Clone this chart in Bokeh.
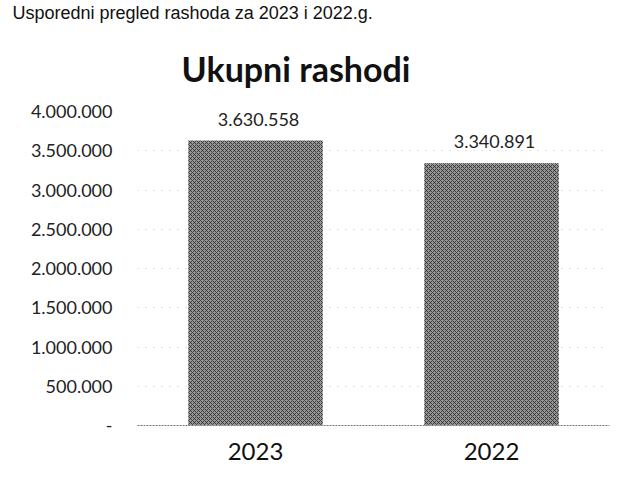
from bokeh.plotting import figure
from bokeh.models import FactorRange, Range1d, FixedTicker, Title, ColumnDataSource, LabelSet
from bokeh.core.properties import value
from bokeh.embed import file_html
from bokeh.resources import INLINE

header = "Usporedni pregled rashoda za 2023 i 2022.g."
chart_title = "Ukupni rashodi"
years = ["2023", "2022"]
values = [3630558, 3340891]
value_labels = ["3.630.558", "3.340.891"]
tick_values = [0, 500000, 1000000, 1500000, 2000000, 2500000, 3000000, 3500000, 4000000]
tick_labels = ["-", "500.000", "1.000.000", "1.500.000", "2.000.000",
               "2.500.000", "3.000.000", "3.500.000", "4.000.000"]

p = figure(width=617, height=466, output_backend="svg", toolbar_location=None,
           title=None,
           x_range=FactorRange(*years), y_range=Range1d(0, 4000000),
           min_border_left=137, min_border_right=8, min_border_bottom=41,
           min_border_top=111)

p.add_layout(Title(text=chart_title, text_font="Lato", text_font_style="bold",
                   text_font_size="34px", text_color="#111111", align="left",
                   offset=44, standoff=46), "above")
p.add_layout(Title(text=header, text_font="Liberation Sans", text_font_size="18px",
                   text_font_style="normal", text_color="#111111", align="left",
                   offset=-125, standoff=0), "above")

src = ColumnDataSource(dict(x=years, top=values, lab=value_labels))
p.vbar(x="x", top="top", width=0.57, source=src, fill_color="#969696",
       line_color=None, hatch_pattern="x", hatch_color="#262626",
       hatch_scale=4, hatch_weight=1, hatch_alpha=0.8)

p.add_layout(LabelSet(x="x", y="top", text="lab", source=src, text_align="center",
                      text_baseline="alphabetic", y_offset=15, x_offset=3,
                      text_font=value("Lato"),
                      text_font_size=value("18px"), text_color="#222222"))

p.yaxis.ticker = FixedTicker(ticks=tick_values)
p.yaxis.major_label_overrides = {v: l for v, l in zip(tick_values, tick_labels)}
p.yaxis.major_label_text_font = "Lato"
p.yaxis.major_label_text_font_size = "18px"
p.yaxis.major_label_text_color = "#222222"
p.yaxis.major_label_standoff = 19
p.yaxis.axis_line_color = None
p.yaxis.major_tick_line_color = None
p.yaxis.minor_tick_line_color = None

p.xaxis.major_label_text_font = "Lato"
p.xaxis.major_label_text_font_size = "24px"
p.xaxis.major_label_text_color = "#111111"
p.xaxis.major_label_standoff = 11
p.xaxis.axis_line_color = "#777777"
p.xaxis.axis_line_dash = "2 1"
p.xaxis.major_tick_line_color = None
p.xaxis.minor_tick_line_color = None

p.xgrid.grid_line_color = None
p.ygrid.grid_line_color = "#999999"
p.ygrid.grid_line_dash = "1 7"
p.ygrid.grid_line_alpha = 0.6
p.outline_line_color = None

open("out.html", "w").write(file_html(p, INLINE))
